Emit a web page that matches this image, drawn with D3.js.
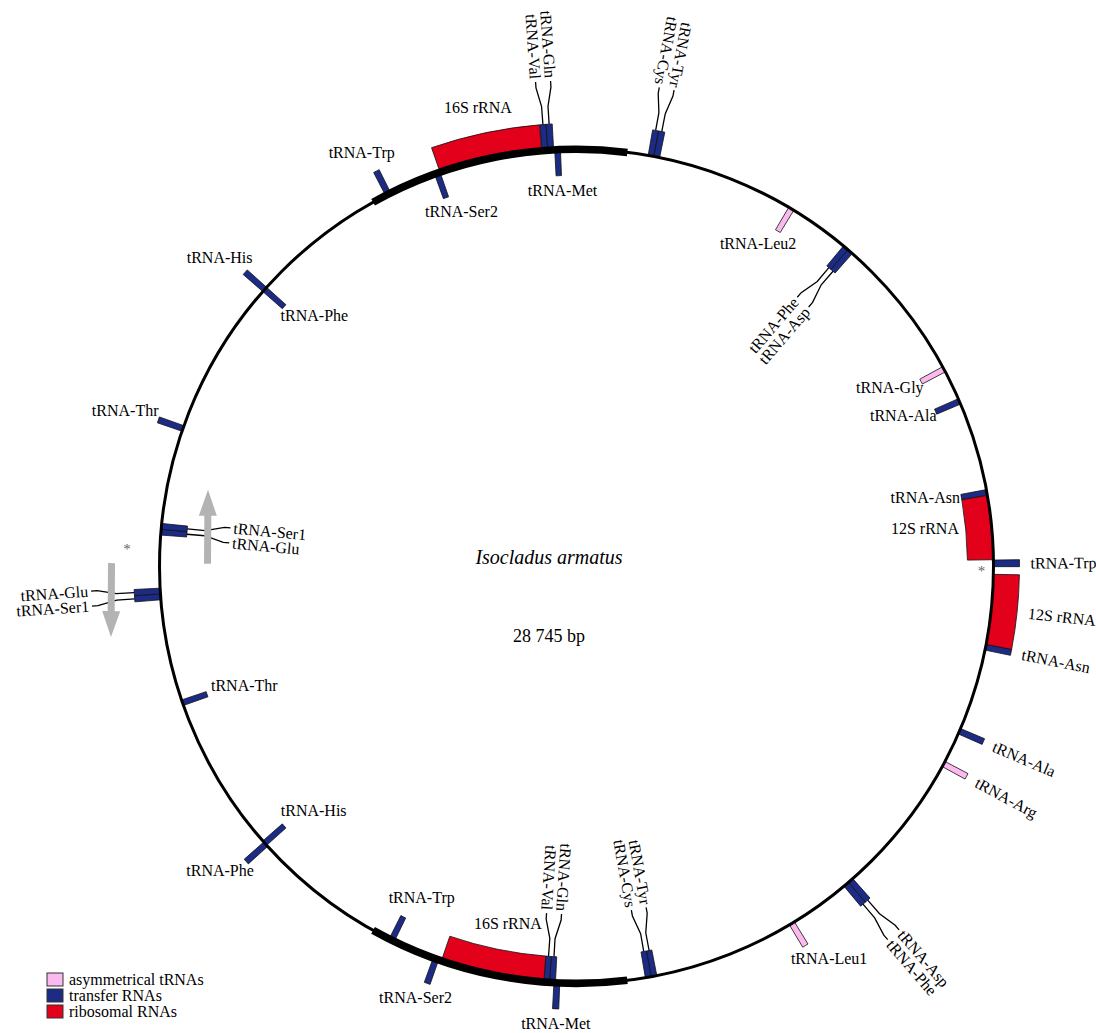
<!DOCTYPE html>
<html>
<head>
<meta charset="utf-8">
<script src="https://cdn.jsdelivr.net/npm/d3@7"></script>
<style>
  body { margin: 0; background: #fff; }
  text { font-family: "Liberation Serif", "Times New Roman", serif; fill: #000; }
</style>
</head>
<body>
<svg id="map" width="1096" height="1033"></svg>
<script>
// ---- data -------------------------------------------------------------
const genomeLength = 28745;
const organism = "Isocladus armatus";
const sizeLabel = "28 745 bp";

// [name, strand (+1 drawn outside, -1 inside), start bp, end bp]
const transferRNAs = [
  ["tRNA-Cys",   1,   790,   854],
  ["tRNA-Tyr",   1,   854,   918],
  ["tRNA-Phe",  -1,  3178,  3242],
  ["tRNA-Asp",  -1,  3242,  3306],
  ["tRNA-Ala",  -1,  5294,  5358],
  ["tRNA-Asn",  -1,  6340,  6404],
  ["tRNA-Trp",   1,  7118,  7190],
  ["tRNA-Asn",   1,  8049,  8112],
  ["tRNA-Ala",   1,  9015,  9079],
  ["tRNA-Asp",   1, 11059, 11123],
  ["tRNA-Phe",   1, 11123, 11187],
  ["tRNA-Tyr",  -1, 13486, 13550],
  ["tRNA-Cys",  -1, 13550, 13614],
  ["tRNA-Met",   1, 14556, 14620],
  ["tRNA-Gln",  -1, 14604, 14668],
  ["tRNA-Val",  -1, 14668, 14732],
  ["tRNA-Ser2",  1, 15914, 15977],
  ["tRNA-Trp",  -1, 16441, 16504],
  ["tRNA-Phe",   1, 18189, 18253],
  ["tRNA-His",  -1, 18205, 18269],
  ["tRNA-Thr",  -1, 20002, 20066],
  ["tRNA-Ser1",  1, 21191, 21255],
  ["tRNA-Glu",   1, 21255, 21319],
  ["tRNA-Glu",  -1, 21902, 21966],
  ["tRNA-Ser1", -1, 21966, 22030],
  ["tRNA-Thr",   1, 23068, 23132],
  ["tRNA-His",   1, 24849, 24912],
  ["tRNA-Phe",  -1, 24849, 24912],
  ["tRNA-Trp",   1, 26569, 26633],
  ["tRNA-Ser2", -1, 27156, 27220],
  ["tRNA-Val",   1, 28366, 28430],
  ["tRNA-Gln",   1, 28430, 28494],
  ["tRNA-Met",  -1, 28506, 28569]
];

const asymmetricalTRNAs = [
  ["tRNA-Leu2", -1,  2443,  2507],
  ["tRNA-Gly",  -1,  4903,  4967],
  ["tRNA-Arg",   1,  9414,  9478],
  ["tRNA-Leu1",  1, 11857, 11921]
];

const ribosomalRNAs = [
  ["12S rRNA", -1,  6404,  7114],
  ["12S rRNA",  1,  7274,  8049],
  ["16S rRNA", -1, 14732, 15882],
  ["16S rRNA",  1, 27220, 28362]
];

// duplicated stretches drawn as a heavier backbone: [start, end]
const repeatRegions = [
  [26414, 559],
  [13814, 16704]
];

// repeat junctions: [bp, strand]
const junctionMarks = [
  [7210, -1],
  [21766, 1]
];

// orientation of the duplicated copies: [bp, strand, direction]
const copyArrows = [
  [21590, -1,  1],
  [21590,  1, -1]
];

const legendItems = ["asymmetrical tRNAs", "transfer RNAs", "ribosomal RNAs"];
const legendKeys  = ["asym", "trna", "rrna"];

// ---- layout -----------------------------------------------------------
const cx = 576.5, cy = 566.3, R = 417;
const markLen = 26;
const pairGap = 15;

const svg = d3.select("#map");
const angle = d3.scaleLinear().domain([0, genomeLength]).range([0, 2 * Math.PI]);
const colour = d3.scaleOrdinal()
  .domain(["asym", "trna", "rrna"])
  .range(["#fbb9ef", "#1c2b85", "#e2001a"]);
const polar = (a, r) => [cx + r * Math.sin(a), cy - r * Math.cos(a)];
const toDeg = a => ((a * 180 / Math.PI) % 360 + 360) % 360;

const features = [
  ...transferRNAs.map(d => ({ name: d[0], strand: d[1], start: d[2], end: d[3], kind: "trna" })),
  ...asymmetricalTRNAs.map(d => ({ name: d[0], strand: d[1], start: d[2], end: d[3], kind: "asym" })),
  ...ribosomalRNAs.map(d => ({ name: d[0], strand: d[1], start: d[2], end: d[3], kind: "rrna" }))
];
features.forEach(d => { d.mid = angle((d.start + d.end) / 2); });

const plot = svg.append("g");

// ---- feature blocks ---------------------------------------------------
const blockArc = d3.arc()
  .innerRadius(d => d.strand > 0 ? R : R - markLen)
  .outerRadius(d => d.strand > 0 ? R + markLen : R)
  .startAngle(d => angle(d.start))
  .endAngle(d => angle(d.end));

plot.append("g")
  .attr("transform", `translate(${cx},${cy})`)
  .selectAll("path")
  .data(features)
  .join("path")
  .attr("d", blockArc)
  .attr("fill", d => colour(d.kind))
  .attr("stroke", "#111")
  .attr("stroke-width", 0.8);

// ---- backbone -----------------------------------------------------------
plot.append("circle")
  .attr("cx", cx).attr("cy", cy).attr("r", R)
  .attr("fill", "none").attr("stroke", "#000").attr("stroke-width", 3);

const heavyArc = d3.arc().innerRadius(R - 3.8).outerRadius(R + 3.8);
plot.append("g")
  .attr("transform", `translate(${cx},${cy})`)
  .selectAll("path")
  .data(repeatRegions)
  .join("path")
  .attr("d", d => heavyArc({
    startAngle: angle(d[0]),
    endAngle: angle(d[1] < d[0] ? d[1] + genomeLength : d[1])
  }))
  .attr("fill", "#000");

// ---- labels -------------------------------------------------------------
const labels = plot.append("g").attr("font-size", 16);

// adjacent tRNAs on the same strand share a fanned-out label block
const trnaLike = features.filter(d => d.kind !== "rrna")
  .sort((a, b) => a.strand - b.strand || a.start - b.start);
const groups = [];
trnaLike.forEach(d => {
  const last = groups.length ? groups[groups.length - 1] : null;
  const prev = last ? last[last.length - 1] : null;
  if (prev && prev.strand === d.strand && d.start - prev.end < 20) last.push(d);
  else groups.push([d]);
});
const singles = groups.filter(g => g.length === 1).map(g => g[0])
  .concat(features.filter(d => d.kind === "rrna"));
const pairs = groups.filter(g => g.length > 1);

const radialRotation = deg => (deg > 20 && deg < 200) ? deg - 90 : deg + 90;

pairs.forEach(g => {
  const s = g[0].strand;
  const n = g.length;
  const ac = d3.mean(g, d => d.mid);
  const deg = toDeg(ac);
  const rot = radialRotation(deg);
  const outwardText = deg > 20 && deg < 200;
  const anchor = (outwardText === (s > 0)) ? "start" : "end";
  const tan = [Math.cos(ac), Math.sin(ac)];
  g.forEach((d, i) => {
    const off = (i - (n - 1) / 2) * pairGap;
    const shift = p => [p[0] + off * tan[0], p[1] + off * tan[1]];
    const pts = [
      polar(d.mid, R + s * markLen),
      polar(d.mid, R + s * (markLen + 18)),
      shift(polar(ac, R + s * (markLen + 37))),
      shift(polar(ac, R + s * (markLen + 43)))
    ];
    labels.append("path")
      .attr("d", d3.line()(pts))
      .attr("fill", "none").attr("stroke", "#000").attr("stroke-width", 1.3);
    const tp = shift(polar(ac, R + s * (markLen + 46)));
    labels.append("text")
      .attr("transform", `translate(${tp[0]},${tp[1]}) rotate(${rot})`)
      .attr("text-anchor", anchor)
      .attr("dominant-baseline", "central")
      .text(d.name);
  });
});

singles.forEach(d => {
  const s = d.strand;
  const deg = toDeg(d.mid);
  if (s > 0 && deg >= 85 && deg <= 125) {
    const p = polar(d.mid, R + markLen + 11);
    labels.append("text")
      .attr("transform", `translate(${p[0]},${p[1]}) rotate(${deg - 90})`)
      .attr("text-anchor", "start")
      .attr("dominant-baseline", "central")
      .text(d.name);
    return;
  }
  const u = [s * Math.sin(d.mid), -s * Math.cos(d.mid)];
  const gap = d.kind === "rrna" ? 9 : 4;
  const p = polar(d.mid, R + s * (markLen + gap));
  const t = labels.append("text")
    .attr("text-anchor", "middle")
    .attr("dominant-baseline", "central")
    .text(d.name);
  const w = t.node().getComputedTextLength();
  t.attr("x", p[0] + u[0] * w / 2 + 2).attr("y", p[1] + u[1] * 14 - 3);
});

// ---- junction asterisks and copy-orientation arrows ---------------------
plot.append("g").selectAll("text")
  .data(junctionMarks)
  .join("text")
  .attr("x", d => polar(angle(d[0]), R + (d[1] > 0 ? 33 : -12))[0])
  .attr("y", d => polar(angle(d[0]), R + (d[1] > 0 ? 33 : -12))[1] + 3)
  .attr("text-anchor", "middle")
  .attr("dominant-baseline", "central")
  .attr("font-size", 15)
  .style("fill", "#666")
  .text("*");

const arrowLen = 74, shaftW = 7, headW = 18, headL = 26;
plot.append("g").selectAll("path")
  .data(copyArrows)
  .join("path")
  .attr("d", d => {
    const a = angle(d[0]);
    const tail = polar(a, R + d[1] * 48);
    const dir = [Math.cos(a) * d[2], Math.sin(a) * d[2]];
    const nrm = [-dir[1], dir[0]];
    const at = (along, side) => [tail[0] + dir[0] * along + nrm[0] * side,
                                 tail[1] + dir[1] * along + nrm[1] * side];
    return d3.line()([
      at(0, -shaftW / 2), at(arrowLen - headL, -shaftW / 2), at(arrowLen - headL, -headW / 2),
      at(arrowLen, 0), at(arrowLen - headL, headW / 2), at(arrowLen - headL, shaftW / 2),
      at(0, shaftW / 2)
    ]) + "Z";
  })
  .attr("fill", "#b3b3b3");

// ---- centre text -----------------------------------------------------------
plot.append("text")
  .attr("x", cx - 27.5).attr("y", cy - 2)
  .attr("text-anchor", "middle")
  .attr("font-size", 20)
  .attr("font-style", "italic")
  .text(organism);
plot.append("text")
  .attr("x", cx - 27.5).attr("y", cy + 76)
  .attr("text-anchor", "middle")
  .attr("font-size", 18)
  .text(sizeLabel);

// ---- legend ---------------------------------------------------------------
const legend = svg.append("g").attr("transform", "translate(47,973)");
const rows = legend.selectAll("g")
  .data(legendItems)
  .join("g")
  .attr("transform", (d, i) => `translate(0,${i * 16})`);
rows.append("rect")
  .attr("width", 16).attr("height", 13)
  .attr("fill", (d, i) => colour(legendKeys[i]))
  .attr("stroke", "#333").attr("stroke-width", 1);
rows.append("text")
  .attr("x", 22).attr("y", 11.5)
  .attr("font-size", 16)
  .text(d => d);
</script>
</body>
</html>
